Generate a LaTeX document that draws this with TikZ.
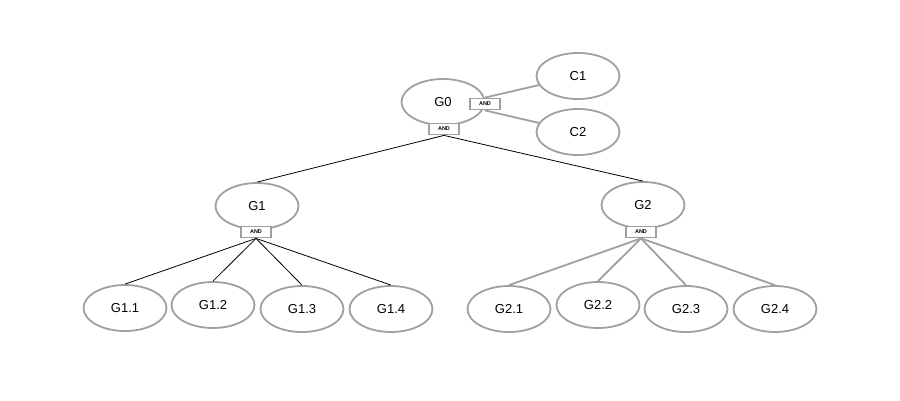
\documentclass[tikz,border=0pt]{standalone}
\usepackage{fontspec}
\setmainfont{Liberation Sans}
\usetikzlibrary{shapes.geometric}
\definecolor{gline}{RGB}{160,160,160}
\tikzset{
  goal/.style={ellipse, draw=gline, line width=1.8pt, fill=white, inner sep=0pt, minimum width=83pt, minimum height=46pt, font=\fontsize{13}{15}\selectfont},
  andbox/.style={rectangle, draw=gline, line width=1.8pt, fill=white, inner sep=0pt, minimum width=30pt, minimum height=11pt, font=\fontsize{5.5}{6}\selectfont\bfseries},
  blk/.style={draw=black, line width=0.8pt},
  gry/.style={draw=gline, line width=1.8pt}
}
\begin{document}
\begin{tikzpicture}[x=1pt,y=-1pt]
\useasboundingbox (0,0) rectangle (900,400);
% nodes
\node[goal] (g0) at (443,102) {G0};
\node[goal] (c1) at (578,76) {C1};
\node[goal] (c2) at (578,132) {C2};
\node[goal] (g1) at (257,206) {G1};
\node[goal] (g2) at (643,205) {G2};
\node[goal] (g11) at (125,308) {G1.1};
\node[goal] (g12) at (213,305) {G1.2};
\node[goal] (g13) at (302,309) {G1.3};
\node[goal] (g14) at (391,309) {G1.4};
\node[goal] (g21) at (509,309) {G2.1};
\node[goal] (g22) at (598,305) {G2.2};
\node[goal] (g23) at (686,309) {G2.3};
\node[goal] (g24) at (775,309) {G2.4};
\node[andbox] (a0c) at (485,104) {AND};
\node[andbox] (a0) at (444,129) {AND};
\node[andbox] (a1) at (256,232) {AND};
\node[andbox] (a2) at (641,232) {AND};
% connectors
\draw[gry] (a0c.north) -- (c1);
\draw[gry] (a0c.south) -- (c2);
\draw[blk] (a0.south) -- (g1.north);
\draw[blk] (a0.south) -- (g2.north);
\draw[blk] (a1.south) -- (g11.north);
\draw[blk] (a1.south) -- (g12.north);
\draw[blk] (a1.south) -- (g13.north);
\draw[blk] (a1.south) -- (g14.north);
\draw[gry] (a2.south) -- (g21.north);
\draw[gry] (a2.south) -- (g22.north);
\draw[gry] (a2.south) -- (g23.north);
\draw[gry] (a2.south) -- (g24.north);
\end{tikzpicture}
\end{document}
